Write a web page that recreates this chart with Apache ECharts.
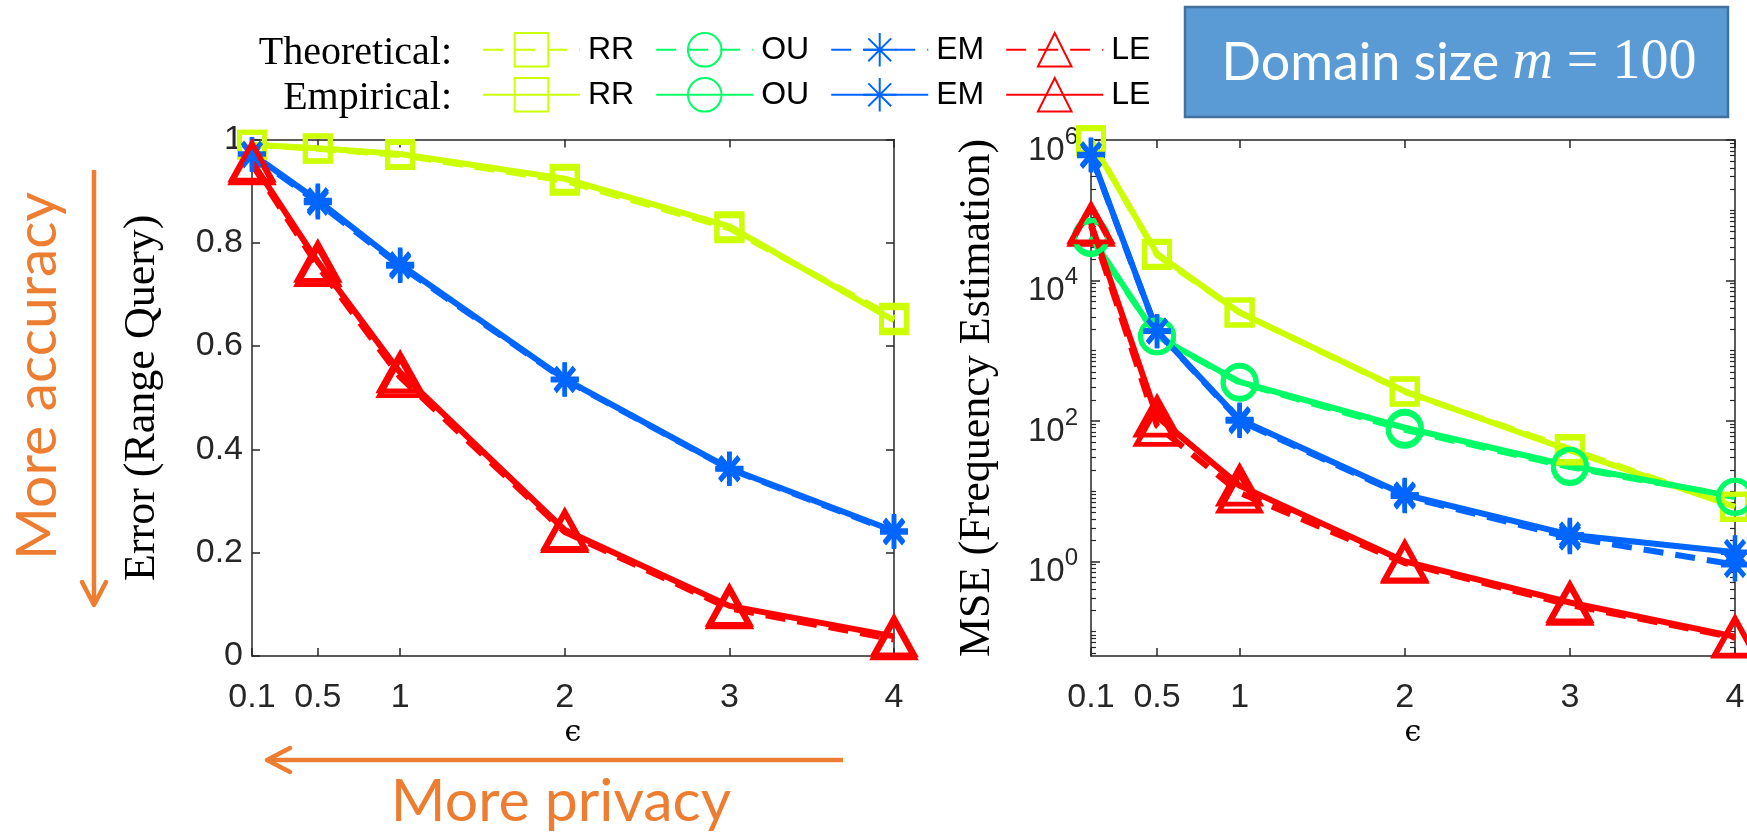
<!DOCTYPE html>
<html><head><meta charset="utf-8">
<script src="https://cdn.jsdelivr.net/npm/echarts@6/dist/echarts.min.js"></script>
<style>html,body{margin:0;padding:0;background:#fff}#c{width:1747px;height:833px}</style>
</head><body><div id="c"></div>
<script>
// ---------------- data ----------------
const epsilon = [0.1, 0.5, 1, 2, 3, 4];
const xTickLabels = ['0.1', '0.5', '1', '2', '3', '4'];
const rangeYTicks = [0, 0.2, 0.4, 0.6, 0.8, 1];
const mseMajorTicks = [1, 100, 1e4, 1e6];

// Error (Range Query)
const rangeRR_theo = [0.990, 0.982, 0.970, 0.920, 0.828, 0.655];
const rangeRR_emp  = [0.990, 0.983, 0.972, 0.924, 0.832, 0.650];
const rangeEM_theo = [0.970, 0.878, 0.755, 0.535, 0.362, 0.240];
const rangeEM_emp  = [0.972, 0.882, 0.758, 0.536, 0.363, 0.242];
const rangeLE_theo = [0.952, 0.755, 0.540, 0.240, 0.092, 0.032];
const rangeLE_emp  = [0.957, 0.763, 0.549, 0.244, 0.097, 0.038];

// MSE (Frequency Estimation)
const mseRR_theo = [1.0e6, 2.3e4, 3.5e3, 260, 40, 6.0];
const mseRR_emp  = [9.6e5, 2.4e4, 3.5e3, 265, 38, 6.0];
const mseOU_theo = [4.0e4, 1.6e3, 350, 75, 22, 8.3];
const mseOU_emp  = [4.2e4, 1.6e3, 360, 80, 23, 8.3];
const mseEM_theo = [6.0e5, 1.9e3, 100, 8.5, 2.2, 0.9];
const mseEM_emp  = [6.2e5, 1.9e3, 105, 8.9, 2.4, 1.35];
const mseLE_theo = [6.0e4, 85, 9.5, 0.95, 0.24, 0.082];
const mseLE_emp  = [6.5e4, 115, 12, 1.0, 0.26, 0.085];

const methods = ['RR', 'OU', 'EM', 'LE'];
const kinds = ['Theoretical', 'Empirical'];

// ---------------- styles ----------------
const COLORS = { RR: '#CCFF00', OU: '#00FF66', EM: '#0066FF', LE: '#FF0000' };
const STAR = 'path://M50 0L50 100M0 50L100 50M16 16L84 84M16 84L84 16';
const SYMBOLS = { RR: 'rect', OU: 'circle', EM: STAR, LE: 'triangle' };
const SIZES = { RR: 25, OU: 33, EM: [28, 34], LE: [41, 37] };
const AX = '#262626';
const SANS = 'Liberation Sans';
const SERIF = 'Liberation Serif';
const LW = 6;

function series(kind, method, values, xi, yi) {
  const c = COLORS[method];
  return {
    type: 'line', name: kind + ' ' + method,
    xAxisIndex: xi, yAxisIndex: yi,
    data: epsilon.map((x, i) => [x, values[i]]),
    symbol: SYMBOLS[method], symbolSize: SIZES[method], showSymbol: true,
    clip: false, animation: false,
    lineStyle: { color: c, width: LW, type: kind === 'Theoretical' ? [20, 12] : 'solid', cap: 'butt' },
    itemStyle: { color: 'transparent', borderColor: c, borderWidth: 5 },
    emphasis: { disabled: true },
    z: kind === 'Theoretical' ? 2 : 3
  };
}

const minorTicks = [];
for (let k = -2; k <= 5; k++) {
  for (let m = 1; m <= 9; m++) {
    const v = m * Math.pow(10, k);
    if (m === 1 && k % 2 === 0) continue;
    if (v >= 0.045 && v <= 1e6) minorTicks.push(v);
  }
}

const xLabel = v => { const i = epsilon.findIndex(e => Math.abs(e - v) < 1e-9); return i >= 0 ? xTickLabels[i] : String(v); };
const logLabel = v => '{b|10}{s|' + Math.round(Math.log10(v)) + '}';

function xAxes(gi) {
  const base = {
    type: 'value', gridIndex: gi, min: 0.1, max: 4,
    splitLine: { show: false },
    axisLine: { show: true, onZero: false, lineStyle: { color: AX, width: 1.5 } },
    axisTick: { show: true, inside: true, length: 8, customValues: epsilon, lineStyle: { color: AX, width: 1.5 } }
  };
  return [
    Object.assign({}, base, {
      position: 'bottom',
      axisLabel: { show: true, customValues: epsilon, formatter: xLabel, margin: 25,
        fontFamily: SANS, fontSize: 34, color: AX },
      name: 'ϵ', nameLocation: 'middle', nameGap: 62, nameMoveOverlap: false,
      nameTextStyle: { fontFamily: 'DejaVu Serif', fontSize: 30, color: '#000' }
    }),
    Object.assign({}, base, { position: 'top', axisLabel: { show: false } })
  ];
}

const legendBase = {
  left: 482, padding: 0, itemWidth: 97, itemHeight: 42, itemGap: 21, selectedMode: false,
  formatter: n => n.split(' ')[1],
  textStyle: { fontFamily: SANS, fontSize: 32, color: '#000', padding: [0, 0, 0, 3] }
};

const option = {
  backgroundColor: '#fff',
  animation: false,
  grid: [
    { left: 252, top: 139.5, width: 642, height: 516.5, outerBoundsMode: 'none', containLabel: false },
    { left: 1091, top: 140, width: 644, height: 516, outerBoundsMode: 'none', containLabel: false }
  ],
  legend: [
    Object.assign({ data: methods.map(m => 'Theoretical ' + m), top: 32 }, legendBase),
    Object.assign({ data: methods.map(m => 'Empirical ' + m), top: 77 }, legendBase)
  ],
  xAxis: [].concat(xAxes(0), xAxes(1)),
  yAxis: [
    { type: 'value', gridIndex: 0, min: 0, max: 1, interval: 0.2, position: 'left',
      splitLine: { show: false },
      axisLine: { show: true, lineStyle: { color: AX, width: 1.5 } },
      axisTick: { show: true, inside: true, length: 8, lineStyle: { color: AX, width: 1.5 } },
      axisLabel: { fontFamily: SANS, fontSize: 34, color: AX, margin: 9,
        formatter: v => String(Math.round(v * 10) / 10) },
      name: 'Error (Range Query)', nameLocation: 'middle', nameRotate: 90, nameGap: 88,
      nameTextStyle: { fontFamily: SERIF, fontSize: 44, color: '#000' } },
    { type: 'value', gridIndex: 0, min: 0, max: 1, interval: 0.2, position: 'right',
      splitLine: { show: false },
      axisLine: { show: true, lineStyle: { color: AX, width: 1.5 } },
      axisTick: { show: true, inside: true, length: 8, lineStyle: { color: AX, width: 1.5 } },
      axisLabel: { show: false } },
    { type: 'log', gridIndex: 1, min: 0.045, max: 1e6, position: 'left',
      splitLine: { show: false },
      axisLine: { show: true, lineStyle: { color: AX, width: 1.5 } },
      axisTick: { show: true, inside: true, length: 9, customValues: mseMajorTicks, lineStyle: { color: AX, width: 1.5 } },
      axisLabel: { customValues: mseMajorTicks, formatter: logLabel, margin: 13, color: AX, padding: [20, 0, 0, 0],
        rich: { b: { fontFamily: SANS, fontSize: 33, color: AX, verticalAlign: 'bottom', lineHeight: 34 },
                s: { fontFamily: SANS, fontSize: 24, color: AX, verticalAlign: 'bottom', lineHeight: 23, padding: [0, 0, 18, 0] } } },
      name: 'MSE (Frequency Estimation)', nameLocation: 'middle', nameRotate: 90, nameGap: 92,
      nameTextStyle: { fontFamily: SERIF, fontSize: 44, color: '#000' } },
    { type: 'log', gridIndex: 1, min: 0.045, max: 1e6, position: 'left',
      splitLine: { show: false }, axisLine: { show: false },
      axisTick: { show: true, inside: true, length: 5, customValues: minorTicks, lineStyle: { color: AX, width: 1.2 } },
      axisLabel: { show: false } },
    { type: 'log', gridIndex: 1, min: 0.045, max: 1e6, position: 'right',
      splitLine: { show: false },
      axisLine: { show: true, lineStyle: { color: AX, width: 1.5 } },
      axisTick: { show: true, inside: true, length: 9, customValues: mseMajorTicks, lineStyle: { color: AX, width: 1.5 } },
      axisLabel: { show: false } },
    { type: 'log', gridIndex: 1, min: 0.045, max: 1e6, position: 'right',
      splitLine: { show: false }, axisLine: { show: false },
      axisTick: { show: true, inside: true, length: 5, customValues: minorTicks, lineStyle: { color: AX, width: 1.2 } },
      axisLabel: { show: false } }
  ],
  series: [
    series('Theoretical', 'RR', rangeRR_theo, 0, 0),
    series('Theoretical', 'EM', rangeEM_theo, 0, 0),
    series('Theoretical', 'LE', rangeLE_theo, 0, 0),
    series('Empirical', 'RR', rangeRR_emp, 0, 0),
    series('Empirical', 'EM', rangeEM_emp, 0, 0),
    series('Empirical', 'LE', rangeLE_emp, 0, 0),
    series('Theoretical', 'RR', mseRR_theo, 2, 2),
    series('Theoretical', 'OU', mseOU_theo, 2, 2),
    series('Theoretical', 'EM', mseEM_theo, 2, 2),
    series('Theoretical', 'LE', mseLE_theo, 2, 2),
    series('Empirical', 'RR', mseRR_emp, 2, 2),
    series('Empirical', 'OU', mseOU_emp, 2, 2),
    series('Empirical', 'EM', mseEM_emp, 2, 2),
    series('Empirical', 'LE', mseLE_emp, 2, 2)
  ],
  graphic: { elements: [
    { type: 'text', x: 452, y: 53, style: { text: 'Theoretical:', x: 0, y: 0, fill: '#000', fontFamily: SERIF, fontSize: 40, align: 'right', verticalAlign: 'middle', textAlign: 'right', textVerticalAlign: 'middle' } },
    { type: 'text', x: 452, y: 98, style: { text: 'Empirical:', x: 0, y: 0, fill: '#000', fontFamily: SERIF, fontSize: 40, align: 'right', verticalAlign: 'middle', textAlign: 'right', textVerticalAlign: 'middle' } },
    { type: 'rect', shape: { x: 1185, y: 7, width: 543, height: 110 }, style: { fill: '#5B9BD5', stroke: '#41719C', lineWidth: 2.5 } },
    { type: 'text', x: 1459, y: 63, style: {
        text: '{a|Domain size }{m|m}{b| = 100}', x: 0, y: 0, fill: '#fff',
        align: 'center', verticalAlign: 'middle', textAlign: 'center', textVerticalAlign: 'middle',
        rich: { a: { fontFamily: 'Lato', fontSize: 52, fill: '#fff', color: '#fff' },
                m: { fontFamily: SERIF, fontStyle: 'italic', fontSize: 56, fill: '#fff', color: '#fff' },
                b: { fontFamily: SERIF, fontSize: 56, fill: '#fff', color: '#fff' } } } },
    // vertical arrow
    { type: 'line', shape: { x1: 94, y1: 170, x2: 94, y2: 604 }, style: { stroke: '#ED7D31', lineWidth: 4.5 } },
    { type: 'polyline', shape: { points: [[82, 582], [94, 605], [106, 582]] }, style: { stroke: '#ED7D31', lineWidth: 4.5, fill: null, lineCap: 'round', lineJoin: 'round' } },
    { type: 'text', x: 38, y: 376, rotation: Math.PI / 2, style: { text: 'More accuracy', x: 0, y: 0, fill: '#ED7D31', fontFamily: 'Lato', fontSize: 57, align: 'center', verticalAlign: 'middle', textAlign: 'center', textVerticalAlign: 'middle' } },
    // horizontal arrow
    { type: 'line', shape: { x1: 843, y1: 760, x2: 269, y2: 760 }, style: { stroke: '#ED7D31', lineWidth: 4.5 } },
    { type: 'polyline', shape: { points: [[290, 748], [267, 760], [290, 772]] }, style: { stroke: '#ED7D31', lineWidth: 4.5, fill: null, lineCap: 'round', lineJoin: 'round' } },
    { type: 'text', x: 561, y: 802, style: { text: 'More privacy', x: 0, y: 0, fill: '#ED7D31', fontFamily: 'Lato', fontSize: 59, align: 'center', verticalAlign: 'middle', textAlign: 'center', textVerticalAlign: 'middle' } }
  ] }
};

const chart = echarts.init(document.getElementById('c'), null, { renderer: 'canvas' });
chart.setOption(option);
</script>
</body></html>
